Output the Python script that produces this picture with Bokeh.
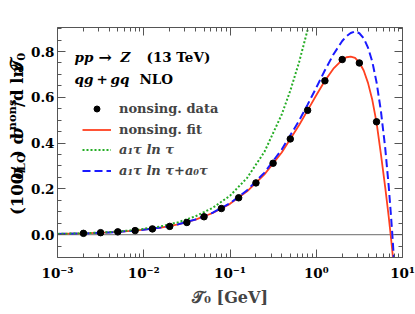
import math
from bokeh.plotting import figure
from bokeh.layouts import row
from bokeh.models import (Legend, LegendItem, Label, Span, FixedTicker, LinearAxis, LogAxis,
                          CustomJSTickFormatter, PrintfTickFormatter)
from bokeh.embed import file_html
from bokeh.resources import INLINE

# ---------------- data ----------------
tau_data = [0.002, 0.00316, 0.005, 0.00794, 0.0126, 0.02, 0.0316, 0.05, 0.0794,
            0.126, 0.2, 0.316, 0.5, 0.794, 1.26, 2.0, 3.16, 5.0]
nons_data = [0.0055, 0.0085, 0.012, 0.0175, 0.025, 0.036, 0.053, 0.078, 0.114,
             0.161, 0.226, 0.312, 0.418, 0.543, 0.672, 0.765, 0.750, 0.493]
nons_err = [0.0005, 0.0005, 0.0006, 0.0007, 0.0008, 0.001, 0.001, 0.0012, 0.0015,
            0.0015, 0.002, 0.002, 0.0025, 0.003, 0.003, 0.004, 0.004, 0.005]

tau_grid = [0.001, 0.002, 0.00398, 0.00794, 0.0158, 0.0251, 0.0398, 0.0631, 0.1,
            0.158, 0.251, 0.398, 0.631, 0.794, 1.0, 1.26, 1.58, 2.0, 2.24, 2.51,
            2.82, 3.16, 3.55, 3.98, 4.47, 5.01, 5.62, 6.31, 6.92, 7.29, 7.59, 7.85, 8.13]
fit_vals = [0.0028, 0.0052, 0.0095, 0.0172, 0.0308, 0.0450, 0.0655, 0.0945, 0.1345,
            0.189, 0.263, 0.359, 0.478, 0.543, 0.609, 0.672, 0.725, 0.764, 0.775, 0.778,
            0.772, 0.752, 0.717, 0.663, 0.588, 0.488, 0.352, 0.205, 0.078, 0.0, -0.065,
            -0.125, -0.19]
a1a0_vals = [0.0028, 0.0052, 0.0095, 0.0172, 0.0309, 0.0454, 0.0661, 0.0956, 0.137,
             0.194, 0.271, 0.372, 0.497, 0.568, 0.642, 0.718, 0.787, 0.846, 0.867, 0.881,
             0.888, 0.880, 0.858, 0.817, 0.755, 0.664, 0.540, 0.377, 0.212, 0.101, 0.011,
             -0.074, -0.166]

tau_a1 = [0.001, 0.002, 0.00398, 0.00794, 0.0158, 0.0251, 0.0398, 0.0631, 0.1,
          0.158, 0.251, 0.398, 0.501, 0.631, 0.794, 1.0]
a1_vals = [0.0032, 0.006, 0.011, 0.020, 0.036, 0.054, 0.080, 0.117, 0.170,
           0.248, 0.362, 0.525, 0.630, 0.752, 0.895, 1.05]

y_major = [0.0, 0.2, 0.4, 0.6, 0.8]
x_major = [1e-3, 1e-2, 1e-1, 1.0, 10.0]

# ---------------- layout constants ----------------
TOTW, TOTH = 415, 314
LW = 27                      # strip holding the rotated y label
W, H = TOTW - LW, TOTH
BL, BT, BR, BB = 57 - LW, 27, 13, 57
FW, FH = W - BL - BR, H - BT - BB
XLOG0, XLOG1 = -3.0, 1.0
Y0, Y1 = -0.1, 0.905

def dx(page_x):
    return 10 ** (XLOG0 + (page_x - 57) / FW * (XLOG1 - XLOG0))

def dy(page_y):
    return Y1 - (page_y - BT) / FH * (Y1 - Y0)

FONT = "DejaVu Serif"
FRAME = "#555555"
RED = "#ff4020"
BLUE = "#1a1aff"
GREEN = "#25ad25"

p = figure(width=W, height=H, x_axis_type="log", x_range=(1e-3, 10), y_range=(Y0, Y1),
           output_backend="svg", toolbar_location=None,
           min_border_left=BL, min_border_right=BR, min_border_top=BT, min_border_bottom=BB)
p.outline_line_color = None
p.grid.visible = False
p.background_fill_color = "white"

xminor = [k * 10 ** j for j in range(-3, 1) for k in range(2, 10)]
yminor = [round(-0.1 + 0.05 * i, 2) for i in range(21)]
xticker = FixedTicker(ticks=x_major, minor_ticks=xminor)
yticker = FixedTicker(ticks=y_major, minor_ticks=yminor)

xfmt = CustomJSTickFormatter(code="""
const e = Math.round(Math.log10(tick));
const sup = {'-':'\u207b','0':'\u2070','1':'\u00b9','2':'\u00b2','3':'\u00b3'};
return '10' + String(e).split('').map(c => sup[c]).join('');
""")
empty = CustomJSTickFormatter(code="return '';")

def style_axis(ax):
    ax.axis_line_color = FRAME
    ax.major_tick_line_color = FRAME
    ax.minor_tick_line_color = FRAME
    ax.major_tick_in = 8
    ax.major_tick_out = 0
    ax.minor_tick_in = 4
    ax.minor_tick_out = 0
    ax.major_label_text_font = FONT
    ax.major_label_text_font_style = "bold"
    ax.major_label_text_font_size = "13.5px"
    ax.major_label_text_color = "black"

xa = p.xaxis[0]
xa.ticker = xticker
xa.formatter = xfmt
style_axis(xa)
xa.major_label_standoff = 7
xa.axis_label = "\U0001D4AF\u2080 [GeV]"
xa.axis_label_text_font = FONT
xa.axis_label_text_font_style = "bold"
xa.axis_label_text_font_size = "16px"
xa.axis_label_standoff = 4

ya = p.yaxis[0]
ya.ticker = yticker
ya.formatter = PrintfTickFormatter(format="%.1f")
style_axis(ya)
ya.major_label_standoff = 3

top = LogAxis(ticker=xticker, formatter=empty)
style_axis(top)
top.major_label_text_font_size = "0px"
top.major_label_standoff = 0
p.add_layout(top, "above")
right = LinearAxis(ticker=yticker, formatter=empty)
style_axis(right)
right.major_label_text_font_size = "0px"
right.major_label_standoff = 0
p.add_layout(right, "right")

p.add_layout(Span(location=0, dimension="width", line_color="#888888", line_width=1.2,
                  level="underlay"))

# ---------------- marks ----------------
r_fit = p.line(tau_grid, fit_vals, line_color=RED, line_width=1.8)
r_a1a0 = p.line(tau_grid, a1a0_vals, line_color=BLUE, line_width=2, line_dash="8 4")
r_a1 = p.line(tau_a1, a1_vals, line_color=GREEN, line_width=2, line_dash="2 2")
lo = [v - e for v, e in zip(nons_data, nons_err)]
hi = [v + e for v, e in zip(nons_data, nons_err)]
p.segment(x0=tau_data, y0=lo, x1=tau_data, y1=hi, line_color="black", line_width=1)
r_pts = p.scatter(tau_data, nons_data, size=6.5, color="black")

# ---------------- legends ----------------
def make_legend(items, loc, style, gh=21):
    lg = Legend(items=items, location=loc, orientation="vertical",
                glyph_width=29, glyph_height=gh, label_height=gh, spacing=0,
                padding=0, margin=0, label_standoff=8,
                border_line_color=None, background_fill_alpha=0)
    lg.label_text_font = FONT
    lg.label_text_font_style = style
    lg.label_text_font_size = "13px"
    return lg

p.add_layout(make_legend([LegendItem(label="nonsing. data", renderers=[r_pts])],
                         (25, 141), "bold", gh=15))
p.add_layout(make_legend([LegendItem(label="nonsing. fit", renderers=[r_fit])],
                         (25, 117), "bold"))
p.add_layout(make_legend([LegendItem(label="a\u2081\u03c4 ln \u03c4", renderers=[r_a1]),
                          LegendItem(label="a\u2081\u03c4 ln \u03c4+a\u2080\u03c4", renderers=[r_a1a0])],
                         (25, 76), "bold italic"))

# ---------------- title texts ----------------
def lab(text, px, py, style="bold", size="13.5px"):
    p.add_layout(Label(x=dx(px), y=dy(py), text=text, text_font=FONT,
                       text_font_style=style, text_font_size=size,
                       text_align="left", text_baseline="alphabetic", text_color="black"))

lab("pp", 74, 56.5, "bold italic")
lab("\u2192", 98, 56.5, "bold", "16px")
lab("Z", 120, 56.5, "bold italic")
lab("(13 TeV)", 146, 56.5, "bold")
lab("qg", 74, 78, "bold italic")
lab("+", 96, 78, "bold")
lab("gq", 110, 78, "bold italic")
lab("NLO", 139, 78, "bold")

# ---------------- rotated y label in its own strip ----------------
q = figure(width=LW, height=TOTH, x_range=(0, LW), y_range=(0, TOTH),
           output_backend="svg", toolbar_location=None,
           x_axis_location=None, y_axis_location=None,
           min_border_left=0, min_border_right=0, min_border_top=0, min_border_bottom=0)
q.outline_line_color = None
q.grid.visible = False

S, s = 16.5, 11.5
pieces = [("(100/", "bold", S, 0, 2.946),
          ("\u03c3", "bold italic", S, 0, 0.684),
          ("LO", "bold", s, 3, 1.569),
          (") d", "bold", S, 0, 1.589),
          ("\u03c3", "bold italic", S, 0, 0.684),
          ("nons", "bold", s, -6, 2.774),
          ("/d ln ", "bold", S, 0, 2.942),
          ("\U0001D4AF", "bold", S, 0, 0.9),
          ("0", "bold", s, 3, 0.696)]
ypos = 256.0
xbase = 17.0
for text, style, size, shift, em in pieces:
    q.add_layout(Label(x=xbase + shift, y=TOTH - ypos, text=text, angle=90, angle_units="deg",
                       text_font=FONT, text_font_style=style, text_font_size="%gpx" % size,
                       text_align="left", text_baseline="alphabetic", text_color="black"))
    ypos -= em * size

layout = row(q, p, spacing=0)
open("out.html", "w").write(file_html(layout, INLINE))
